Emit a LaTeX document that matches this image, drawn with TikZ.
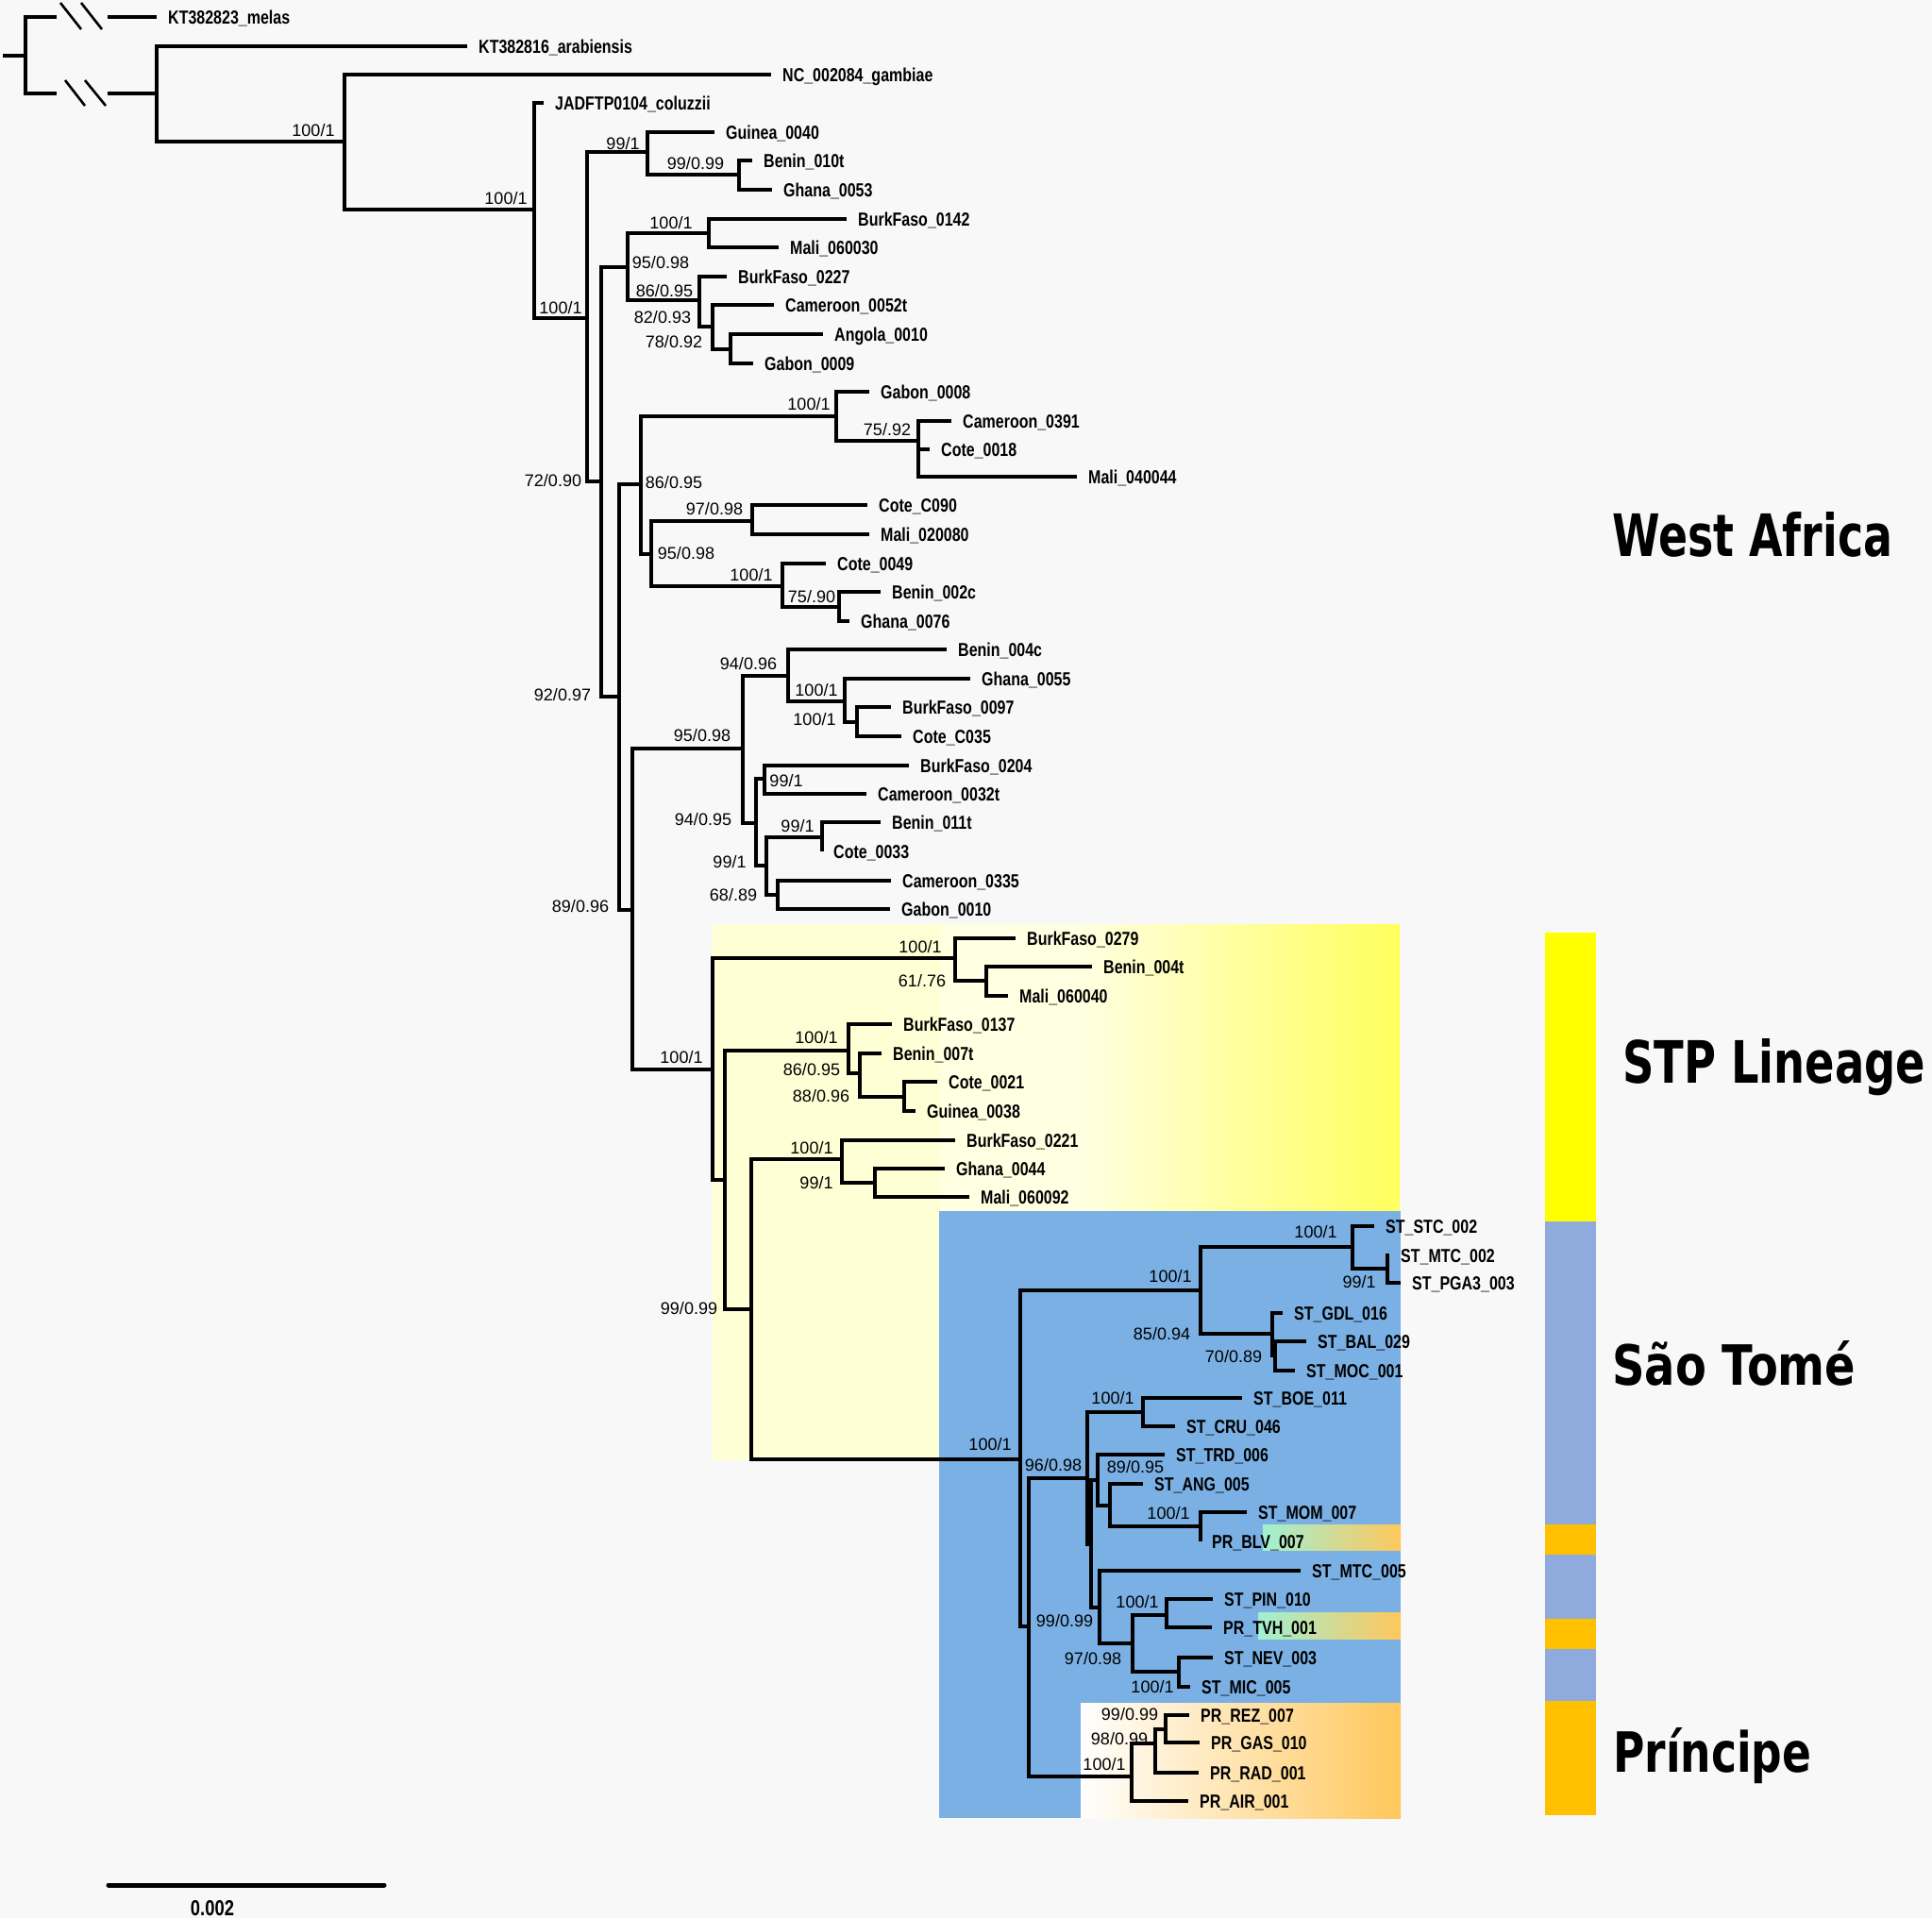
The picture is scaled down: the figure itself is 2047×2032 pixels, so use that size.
\documentclass[tikz,border=0pt]{standalone}
\usepackage{fontspec}
\usepackage{graphicx}
\setmainfont{Liberation Sans}
\newfontfamily\leaffont{Liberation Sans}[FakeStretch=0.80]
\newfontfamily\bigfont{DejaVu Sans}
\definecolor{bg}{RGB}{248,248,248}
\definecolor{stblue}{RGB}{122,176,228}
\definecolor{paleyel}{RGB}{255,255,214}
\definecolor{brightyel}{RGB}{255,255,92}
\definecolor{prorange}{RGB}{255,199,92}
\definecolor{aqua}{RGB}{160,240,210}
\definecolor{baryel}{RGB}{255,255,0}
\definecolor{barblue}{RGB}{143,170,220}
\definecolor{barorange}{RGB}{255,192,0}
\newcommand\mkleaf[4]{\coordinate (#1) at (#2,#3); \node[lf] (#1t) at (#1) {#4};}
\newcommand\mkbig[5]{\node[anchor=base west, inner sep=0pt] (#1) at (#2,#3) {\resizebox{#4pt}{47pt}{\bigfont\bfseries #5}};}
\begin{document}
\begin{tikzpicture}[x=1pt,y=-1pt,
  br/.style={line width=3.2pt, black},
  lf/.style={anchor=west, inner sep=0pt, xshift=12pt, text height=14.3pt, text depth=0pt,
    font=\leaffont\bfseries\fontsize{20pt}{20pt}\selectfont},
  bs/.style={inner sep=0pt, anchor=center, font=\fontsize{18pt}{18pt}\selectfont}]
\useasboundingbox[fill=bg] (0,0) rectangle (2047,2032);

% ---------- coloured backgrounds ----------
\fill[paleyel] (755,979) rectangle (1483,1547);
\fill[white!30!paleyel] (997,979) rectangle (1144,1283);
\shade[left color=white!30!paleyel, right color=brightyel] (1144,979) rectangle (1483,1283);
\fill[stblue] (995,1283) rectangle (1484,1926);
\shade[left color=white, right color=prorange] (1145,1804) rectangle (1484,1926);
\shade[left color=aqua, right color=prorange] (1338,1615) rectangle (1484,1642);
\shade[left color=aqua, right color=prorange] (1333,1708) rectangle (1484,1736);

% ---------- side bars ----------
\fill[baryel] (1637,988) rectangle (1691,1294);
\fill[barblue] (1637,1294) rectangle (1691,1615);
\fill[barorange] (1637,1615) rectangle (1691,1647);
\fill[barblue] (1637,1647) rectangle (1691,1715);
\fill[barorange] (1637,1715) rectangle (1691,1747);
\fill[barblue] (1637,1747) rectangle (1691,1802);
\fill[barorange] (1637,1802) rectangle (1691,1923);

% ---------- internal nodes ----------
\coordinate (rs) at (3,59);
\coordinate (r0) at (27,59);
\coordinate (mA) at (60,18);  \coordinate (mB) at (114,18);
\coordinate (bA) at (60,99);  \coordinate (bB) at (114,99);
\coordinate (n1) at (166,99);
\coordinate (n2) at (365,150);
\coordinate (n3) at (566,222);
\coordinate (n4) at (622,337);
\coordinate (n5) at (686,161);
\coordinate (n7) at (783,185);
\coordinate (n6) at (637,510);
\coordinate (n8) at (665,283);
\coordinate (n10) at (751,247);
\coordinate (n11) at (741,318);
\coordinate (n12) at (755,346);
\coordinate (n13) at (774,370);
\coordinate (n9) at (656,738);
\coordinate (n14) at (679,513);
\coordinate (n16) at (886,441);
\coordinate (n18) at (973,467);
\coordinate (n17) at (690,587);
\coordinate (n19) at (797,552);
\coordinate (n20) at (829,621);
\coordinate (n21) at (889,643);
\coordinate (n15) at (670,964);
\coordinate (n22) at (787,793);
\coordinate (n24) at (835,716);
\coordinate (n26) at (895,743);
\coordinate (n27) at (908,765);
\coordinate (n25) at (801,872);
\coordinate (n28) at (810,825);
\coordinate (n29) at (812,917);
\coordinate (n30) at (871,887);
\coordinate (n31) at (824,948);
\coordinate (n23) at (755,1133);
\coordinate (n32) at (1012,1015);
\coordinate (n34) at (1045,1039);
\coordinate (n33) at (768,1250);
\coordinate (n35) at (899,1113);
\coordinate (n37) at (911,1137);
\coordinate (n38) at (958,1162);
\coordinate (n36) at (796,1387);
\coordinate (n39) at (892,1228);
\coordinate (n41) at (927,1253);
\coordinate (n40) at (1081,1546);
\coordinate (n42) at (1272,1367);
\coordinate (n44) at (1433,1321);
\coordinate (n46) at (1470,1344);
\coordinate (n45) at (1348,1413);
\coordinate (n47) at (1351,1436);
\coordinate (n43) at (1090,1723);
\coordinate (n48) at (1152,1566);
\coordinate (n50) at (1211,1496);
\coordinate (n51) at (1156,1636);
\coordinate (n52) at (1163,1568);
\coordinate (n54) at (1176,1595);
\coordinate (n55) at (1272,1617);
\coordinate (n53) at (1165,1703);
\coordinate (n56) at (1200,1741);
\coordinate (n57) at (1236,1711);
\coordinate (n58) at (1249,1771);
\coordinate (n49) at (1199,1882);
\coordinate (n59) at (1224,1847);
\coordinate (n60) at (1235,1832);

% ---------- leaves ----------
\mkleaf{l1}{166}{18}{KT382823\_melas}
\mkleaf{l2}{495}{49}{KT382816\_arabiensis}
\mkleaf{l3}{817}{79}{NC\_002084\_gambiae}
\mkleaf{l4}{576}{109}{JADFTP0104\_coluzzii}
\mkleaf{l5}{757}{140}{Guinea\_0040}
\mkleaf{l6}{797}{170}{Benin\_010t}
\mkleaf{l7}{818}{201}{Ghana\_0053}
\mkleaf{l8}{897}{232}{BurkFaso\_0142}
\mkleaf{l9}{825}{262}{Mali\_060030}
\mkleaf{l10}{770}{293}{BurkFaso\_0227}
\mkleaf{l11}{820}{323}{Cameroon\_0052t}
\mkleaf{l12}{872}{354}{Angola\_0010}
\mkleaf{l13}{798}{385}{Gabon\_0009}
\mkleaf{l14}{921}{415}{Gabon\_0008}
\mkleaf{l15}{1008}{446}{Cameroon\_0391}
\mkleaf{l16}{985}{476}{Cote\_0018}
\mkleaf{l17}{1141}{505}{Mali\_040044}
\mkleaf{l18}{919}{535}{Cote\_C090}
\mkleaf{l19}{921}{566}{Mali\_020080}
\mkleaf{l20}{875}{597}{Cote\_0049}
\mkleaf{l21}{933}{627}{Benin\_002c}
\mkleaf{l22}{900}{658}{Ghana\_0076}
\mkleaf{l23}{1003}{688}{Benin\_004c}
\mkleaf{l24}{1028}{719}{Ghana\_0055}
\mkleaf{l25}{944}{749}{BurkFaso\_0097}
\mkleaf{l26}{955}{780}{Cote\_C035}
\mkleaf{l27}{963}{811}{BurkFaso\_0204}
\mkleaf{l28}{918}{841}{Cameroon\_0032t}
\mkleaf{l29}{933}{871}{Benin\_011t}
\mkleaf{l30}{871}{902}{Cote\_0033}
\mkleaf{l31}{944}{933}{Cameroon\_0335}
\mkleaf{l32}{943}{963}{Gabon\_0010}
\mkleaf{l33}{1076}{994}{BurkFaso\_0279}
\mkleaf{l34}{1157}{1024}{Benin\_004t}
\mkleaf{l35}{1068}{1055}{Mali\_060040}
\mkleaf{l36}{945}{1085}{BurkFaso\_0137}
\mkleaf{l37}{934}{1116}{Benin\_007t}
\mkleaf{l38}{993}{1146}{Cote\_0021}
\mkleaf{l39}{970}{1177}{Guinea\_0038}
\mkleaf{l40}{1012}{1208}{BurkFaso\_0221}
\mkleaf{l41}{1001}{1238}{Ghana\_0044}
\mkleaf{l42}{1027}{1268}{Mali\_060092}
\mkleaf{l43}{1456}{1299}{ST\_STC\_002}
\mkleaf{l44}{1472}{1330}{ST\_MTC\_002}
\mkleaf{l45}{1484}{1359}{ST\_PGA3\_003}
\mkleaf{l46}{1359}{1391}{ST\_GDL\_016}
\mkleaf{l47}{1384}{1421}{ST\_BAL\_029}
\mkleaf{l48}{1372}{1452}{ST\_MOC\_001}
\mkleaf{l49}{1316}{1481}{ST\_BOE\_011}
\mkleaf{l50}{1245}{1511}{ST\_CRU\_046}
\mkleaf{l51}{1234}{1541}{ST\_TRD\_006}
\mkleaf{l52}{1211}{1572}{ST\_ANG\_005}
\mkleaf{l53}{1321}{1602}{ST\_MOM\_007}
\mkleaf{l54}{1272}{1633}{PR\_BLV\_007}
\mkleaf{l55}{1378}{1664}{ST\_MTC\_005}
\mkleaf{l56}{1285}{1694}{ST\_PIN\_010}
\mkleaf{l57}{1284}{1724}{PR\_TVH\_001}
\mkleaf{l58}{1285}{1756}{ST\_NEV\_003}
\mkleaf{l59}{1261}{1787}{ST\_MIC\_005}
\mkleaf{l60}{1260}{1817}{PR\_REZ\_007}
\mkleaf{l61}{1271}{1846}{PR\_GAS\_010}
\mkleaf{l62}{1270}{1878}{PR\_RAD\_001}
\mkleaf{l63}{1259}{1908}{PR\_AIR\_001}

% ---------- branches ----------
\draw[br] (rs) -- (r0);
\draw[br] (mB) -- (l1);
\draw[br] (bB) -- (n1);
\foreach \p/\c in {r0/mA, r0/bA,
  n1/l2, n1/n2, n2/l3, n2/n3, n3/l4, n3/n4, n4/n5, n4/n6,
  n5/l5, n5/n7, n7/l6, n7/l7, n6/n8, n6/n9, n8/n10, n8/n11,
  n10/l8, n10/l9, n11/l10, n11/n12, n12/l11, n12/n13, n13/l12, n13/l13,
  n9/n14, n9/n15, n14/n16, n14/n17, n16/l14, n16/n18,
  n18/l15, n18/l16, n18/l17, n17/n19, n17/n20, n19/l18, n19/l19,
  n20/l20, n20/n21, n21/l21, n21/l22, n15/n22, n15/n23,
  n22/n24, n22/n25, n24/l23, n24/n26, n26/l24, n26/n27, n27/l25, n27/l26,
  n25/n28, n25/n29, n28/l27, n28/l28, n29/n30, n29/n31, n30/l29, n30/l30,
  n31/l31, n31/l32, n23/n32, n23/n33, n32/l33, n32/n34, n34/l34, n34/l35,
  n33/n35, n33/n36, n35/l36, n35/n37, n37/l37, n37/n38, n38/l38, n38/l39,
  n36/n39, n36/n40, n39/l40, n39/n41, n41/l41, n41/l42,
  n40/n42, n40/n43, n42/n44, n42/n45, n44/l43, n44/n46, n46/l44, n46/l45,
  n45/l46, n45/n47, n47/l47, n47/l48, n43/n48, n43/n49,
  n48/n50, n48/n51, n50/l49, n50/l50, n51/n52, n51/n53,
  n52/l51, n52/n54, n54/l52, n54/n55, n55/l53, n55/l54,
  n53/l55, n53/n56, n56/n57, n56/n58, n57/l56, n57/l57, n58/l58, n58/l59,
  n49/n59, n49/l63, n59/n60, n59/l62, n60/l60, n60/l61}
  \draw[br] (\p) |- (\c);

% break marks
\draw[line width=2.6pt] (64,3) -- (86,31) (86,3) -- (108,31);
\draw[line width=2.6pt] (69,85) -- (90,112) (90,85) -- (112,112);

% ---------- support values ----------
\foreach \x/\y/\t [count=\i] in {
  332/138/100\slash 1, 536/210/100\slash 1, 594/326/100\slash 1, 660/152/99\slash 1,
  737/173/99\slash 0.99, 586/509/72\slash 0.90, 700/278/95\slash 0.98, 711/236/100\slash 1,
  704/308/86\slash 0.95, 702/336/82\slash 0.93, 714/362/78\slash 0.92, 596/736/92\slash 0.97,
  714/511/86\slash 0.95, 857/428/100\slash 1, 940/455/75\slash .92, 727/586/95\slash 0.98,
  757/539/97\slash 0.98, 796/609/100\slash 1, 860/632/75\slash .90, 615/960/89\slash 0.96,
  744/779/95\slash 0.98, 793/703/94\slash 0.96, 865/731/100\slash 1, 863/762/100\slash 1,
  745/868/94\slash 0.95, 833/827/99\slash 1, 773/913/99\slash 1, 845/875/99\slash 1,
  777/948/68\slash .89, 722/1120/100\slash 1, 975/1003/100\slash 1, 977/1039/61\slash .76,
  865/1099/100\slash 1, 860/1133/86\slash 0.95, 870/1161/88\slash 0.96, 730/1386/99\slash 0.99,
  860/1216/100\slash 1, 865/1253/99\slash 1, 1049/1530/100\slash 1, 1240/1352/100\slash 1,
  1394/1305/100\slash 1, 1440/1358/99\slash 1, 1231/1413/85\slash 0.94, 1307/1437/70\slash 0.89,
  1128/1717/99\slash 0.99, 1116/1552/96\slash 0.98, 1179/1481/100\slash 1, 1203/1554/89\slash 0.95,
  1238/1603/100\slash 1, 1158/1757/97\slash 0.98, 1205/1697/100\slash 1, 1221/1787/100\slash 1,
  1170/1869/100\slash 1, 1186/1842/98\slash 0.99, 1197/1816/99\slash 0.99}
  \node[bs] (s\i) at (\x,\y) {\t};

% ---------- group labels ----------
\mkbig{wa}{1708}{589}{297}{West Africa}
\mkbig{stp}{1719}{1147}{321}{STP Lineage}
\mkbig{st}{1708}{1467}{258}{São Tomé}
\mkbig{pr}{1709}{1877}{210}{Príncipe}

% ---------- scale bar ----------
\coordinate (sbL) at (115,1997);
\coordinate (sbR) at (407,1997);
\draw[line width=5pt, line cap=round] (sbL) -- (sbR);
\node[inner sep=0pt, text height=16pt, text depth=0pt,
  font=\leaffont\bfseries\fontsize{23pt}{23pt}\selectfont] (sbt) at (225,2021) {0.002};
\end{tikzpicture}
\end{document}
